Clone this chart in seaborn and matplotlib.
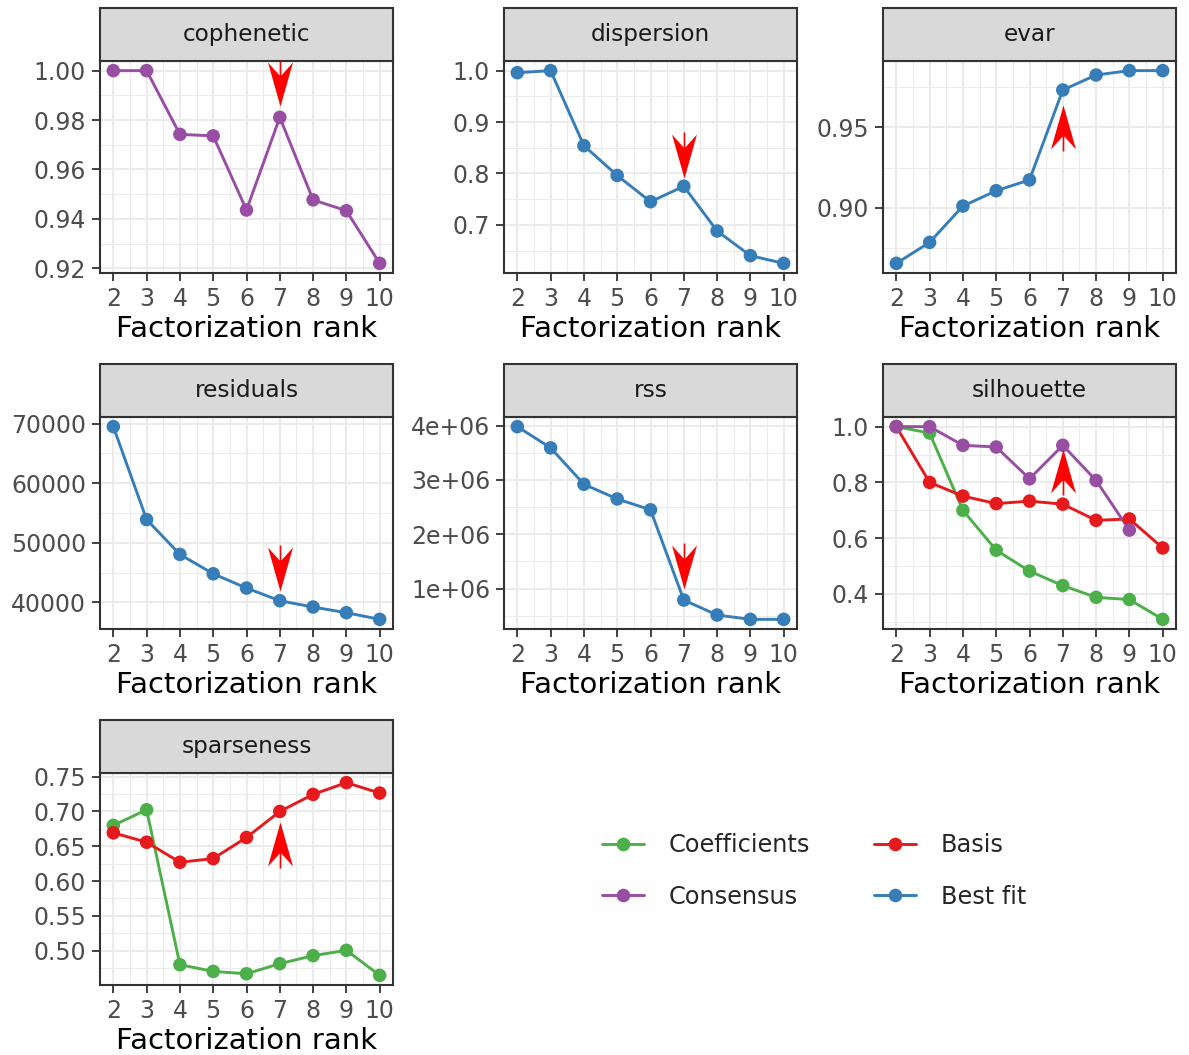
import numpy as np
import pandas as pd
import matplotlib
matplotlib.use("Agg")
import matplotlib.pyplot as plt
import seaborn as sns
from matplotlib.path import Path
from matplotlib.markers import MarkerStyle
from matplotlib.lines import Line2D
from matplotlib.patches import Rectangle
from matplotlib.ticker import MultipleLocator, AutoMinorLocator, FuncFormatter

# ---------------------------------------------------------------- data
ranks = [2, 3, 4, 5, 6, 7, 8, 9, 10]

cophenetic_consensus = [1.000, 1.000, 0.9742, 0.9736, 0.9436, 0.9811, 0.9477, 0.9433, 0.922]
dispersion_bestfit = [0.996, 1.000, 0.854, 0.796, 0.745, 0.775, 0.688, 0.640, 0.625]
evar_bestfit = [0.8657, 0.8787, 0.9012, 0.9107, 0.9174, 0.9731, 0.9824, 0.9851, 0.9851]
residuals_bestfit = [69500, 53900, 48050, 44800, 42400, 40280, 39220, 38270, 37150]
rss_bestfit = [3.98e6, 3.59e6, 2.92e6, 2.65e6, 2.45e6, 0.79e6, 0.515e6, 0.435e6, 0.435e6]
silhouette_coefficients = [1.000, 0.977, 0.700, 0.557, 0.482, 0.430, 0.388, 0.380, 0.309]
silhouette_basis = [1.000, 0.800, 0.751, 0.724, 0.733, 0.722, 0.664, 0.669, 0.565]
silhouette_consensus = [1.000, 1.000, 0.933, 0.927, 0.813, 0.933, 0.807, 0.629, np.nan]
sparseness_coefficients = [0.680, 0.7024, 0.4798, 0.4702, 0.4668, 0.4813, 0.4928, 0.5005, 0.4645]
sparseness_basis = [0.6693, 0.6558, 0.627, 0.6323, 0.6626, 0.700, 0.7245, 0.7414, 0.7264]

series_order = ["Coefficients", "Basis", "Consensus", "Best fit"]
palette = {"Coefficients": "#4DAF4A", "Basis": "#E41A1C",
           "Consensus": "#984EA3", "Best fit": "#377EB8"}

measures = ["cophenetic", "dispersion", "evar", "residuals", "rss",
            "silhouette", "sparseness"]

records = []
def add(measure, series, values):
    for r, v in zip(ranks, values):
        records.append({"measure": measure, "series": series, "rank": r, "value": v})

add("cophenetic", "Consensus", cophenetic_consensus)
add("dispersion", "Best fit", dispersion_bestfit)
add("evar", "Best fit", evar_bestfit)
add("residuals", "Best fit", residuals_bestfit)
add("rss", "Best fit", rss_bestfit)
add("silhouette", "Coefficients", silhouette_coefficients)
add("silhouette", "Basis", silhouette_basis)
add("silhouette", "Consensus", silhouette_consensus)
add("sparseness", "Coefficients", sparseness_coefficients)
add("sparseness", "Basis", sparseness_basis)
df = pd.DataFrame(records).dropna()

# chosen rank marker: (series it points at, direction, gap in px)
chosen_rank = 7
markers_at_rank = {
    "cophenetic": ("Consensus", "down", 11),
    "dispersion": ("Best fit", "down", 8),
    "evar": ("Best fit", "up", 15),
    "residuals": ("Best fit", "down", 10),
    "rss": ("Best fit", "down", 11),
    "silhouette": ("Consensus", "up", 4),
    "sparseness": ("Basis", "up", 11),
}

tick_step = {"cophenetic": 0.02, "dispersion": 0.1, "evar": 0.05,
             "residuals": 10000, "rss": 1e6, "silhouette": 0.2, "sparseness": 0.05}
tick_fmt = {
    "cophenetic": lambda v, p: f"{v:.2f}",
    "dispersion": lambda v, p: f"{v:.1f}",
    "evar": lambda v, p: f"{v:.2f}",
    "residuals": lambda v, p: f"{v:.0f}",
    "rss": lambda v, p: f"{v:.0e}",
    "silhouette": lambda v, p: f"{v:.1f}",
    "sparseness": lambda v, p: f"{v:.2f}",
}

# ---------------------------------------------------------------- style
sns.set_theme(style="white")
plt.rcParams["font.family"] = ["DejaVu Sans"]

W, H = 1189, 1055
DPI = 100
fig = plt.figure(figsize=(W / DPI, H / DPI), dpi=DPI)

col_left = [100, 504, 883]
row_top = [61, 417, 773]
panel_w, panel_h = 293, 212
strip_h = 53

dark = "#333333"
grid_col = "#EBEBEB"


def arrow_marker(direction, gap):
    """Stealth-shaped arrowhead, tip `gap` px away from the anchor point."""
    L, hw, notch = 44.0, 12.5, 30.0
    sw = 0.8
    verts = [(0, gap), (hw, gap + L), (0, gap + notch), (-hw, gap + L), (0, gap),
             (-sw, gap + notch - 2), (sw, gap + notch - 2), (sw, gap + L + 2),
             (-sw, gap + L + 2), (-sw, gap + notch - 2)]
    codes = [Path.MOVETO, Path.LINETO, Path.LINETO, Path.LINETO, Path.CLOSEPOLY,
             Path.MOVETO, Path.LINETO, Path.LINETO, Path.LINETO, Path.CLOSEPOLY]
    verts = np.array(verts, dtype=float)
    if direction == "up":
        verts[:, 1] *= -1
    extent = np.max(np.abs(verts))
    size_pt = 2 * extent * 72.0 / DPI
    return MarkerStyle(Path(verts, codes)), size_pt


for i, m in enumerate(measures):
    row, col = divmod(i, 3)
    left = col_left[col] / W
    bottom = 1 - (row_top[row] + panel_h) / H
    ax = fig.add_axes([left, bottom, panel_w / W, panel_h / H])
    sub = df[df["measure"] == m]
    present = [s for s in series_order if s in set(sub["series"])]

    sns.lineplot(data=sub, x="rank", y="value", hue="series", hue_order=present,
                 palette=palette, lw=2.1, legend=False, ax=ax, zorder=3)
    sns.scatterplot(data=sub, x="rank", y="value", hue="series", hue_order=present,
                    palette=palette, s=95, edgecolor="none", linewidth=0,
                    legend=False, ax=ax, zorder=4)

    # limits with 5% expansion
    lo, hi = sub["value"].min(), sub["value"].max()
    pad = 0.05 * (hi - lo)
    ax.set_ylim(lo - pad, hi + pad)
    ax.set_xlim(2 - 0.05 * 8, 10 + 0.05 * 8)

    ax.xaxis.set_major_locator(MultipleLocator(1))
    ax.xaxis.set_minor_locator(AutoMinorLocator(2))
    ax.yaxis.set_major_locator(MultipleLocator(tick_step[m]))
    ax.yaxis.set_minor_locator(AutoMinorLocator(2))
    ax.yaxis.set_major_formatter(FuncFormatter(tick_fmt[m]))
    ax.xaxis.set_major_formatter(FuncFormatter(lambda v, p: f"{v:.0f}"))

    ax.grid(which="major", color=grid_col, lw=1.5, zorder=0)
    ax.grid(which="minor", color=grid_col, lw=0.75, zorder=0)
    ax.set_axisbelow(True)

    ax.tick_params(axis="both", which="major", length=6, width=1.3, color=dark,
                   labelsize=17, labelcolor="#4D4D4D", pad=4,
                   left=True, bottom=True)
    ax.tick_params(axis="both", which="minor", length=0)
    for sp in ax.spines.values():
        sp.set_color(dark)
        sp.set_linewidth(1.5)
        sp.set_zorder(6)

    ax.set_ylabel("")
    ax.set_xlabel("Factorization rank", fontsize=21, color="black", labelpad=3)

    # strip on top of the panel
    h_frac = strip_h / panel_h
    ax.add_patch(Rectangle((0, 1), 1, h_frac, transform=ax.transAxes,
                           facecolor="#D9D9D9", edgecolor=dark, lw=1.5,
                           clip_on=False, zorder=7))
    ax.text(0.5, 1 + h_frac / 2, m, transform=ax.transAxes, ha="center",
            va="center", fontsize=16.7, color="#1A1A1A", zorder=8)

    # arrow at the chosen rank
    series, direction, gap = markers_at_rank[m]
    val = sub[(sub["series"] == series) & (sub["rank"] == chosen_rank)]["value"].iloc[0]
    mk, ms = arrow_marker(direction, gap)
    ax.plot([chosen_rank], [val], ls="none", marker=mk, ms=ms, color="#FF0000",
            mew=0, clip_on=False, zorder=5)

# ---------------------------------------------------------------- legend
legend_labels = ["Coefficients", "Consensus", "Basis", "Best fit"]
handles = [Line2D([], [], color=palette[l], lw=2.1, marker="o", ms=9.8,
                  markeredgewidth=0) for l in legend_labels]
fig.legend(handles, legend_labels, ncol=2, loc="center",
           bbox_to_anchor=(814 / W, 1 - 871 / H), frameon=False, fontsize=17.3,
           handlelength=1.75, handletextpad=1.0, columnspacing=2.7,
           labelspacing=1.15)

fig.savefig("out.png", dpi=DPI)
